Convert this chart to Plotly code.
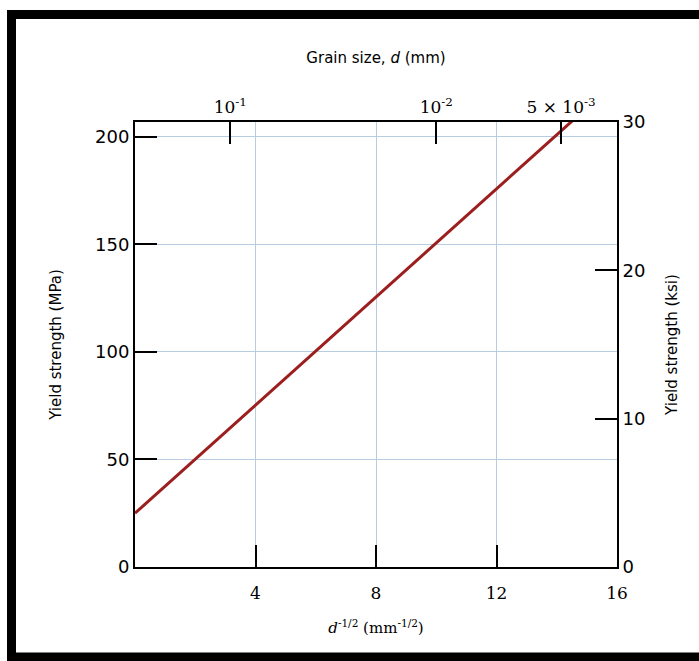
import plotly.graph_objects as go

# Data
d_inv_sqrt = [0, 16]          # d^-1/2 (mm^-1/2)
yield_mpa = [25, 226]         # yield strength (MPa), line clipped at top of axes

x_ticks = [4, 8, 12, 16]
y_mpa_ticks = [0, 50, 100, 150, 200]
y_ksi_ticks = [0, 10, 20, 30]
grain_sizes_mm = [0.1, 0.01, 0.005]
grain_labels = ["10<sup>-1</sup>", "10<sup>-2</sup>", "5 × 10<sup>-3</sup>"]

KSI_TO_MPA = 6.894757
y_max_ksi = 30
y_max_mpa = y_max_ksi * KSI_TO_MPA

grid_col = "#b9cde2"
line_red = "#9c1e1e"

fig = go.Figure()
fig.add_trace(go.Scatter(x=d_inv_sqrt, y=yield_mpa, mode="lines",
                         line=dict(color=line_red, width=3), showlegend=False,
                         hoverinfo="skip"))
# invisible trace to activate secondary axes
fig.add_trace(go.Scatter(x=[None], y=[None], xaxis="x2", yaxis="y2", showlegend=False))

top_tickvals = [g ** -0.5 for g in grain_sizes_mm]

sans = "DejaVu Sans"
serif = "DejaVu Serif"

fig.update_layout(
    width=699, height=661,
    margin=dict(l=135, r=82, t=122, b=94),
    paper_bgcolor="white", plot_bgcolor="white",
    xaxis=dict(range=[0, 16], tickvals=x_ticks, ticktext=[str(v) for v in x_ticks],
               ticks="inside", ticklen=22, tickwidth=2, tickcolor="black",
               showline=True, linecolor="black", linewidth=2,
               showgrid=True, gridcolor=grid_col, gridwidth=1, zeroline=False,
               tickfont=dict(family=serif, size=17, color="black"),
               ticklabelstandoff=10,
               title=dict(text="<i>d</i><sup>-1/2</sup> (mm<sup>-1/2</sup>)",
                          font=dict(family=serif, size=15, color="black"), standoff=20)),
    yaxis=dict(range=[0, y_max_mpa], tickvals=y_mpa_ticks,
               ticks="inside", ticklen=22, tickwidth=2, tickcolor="black",
               showline=True, linecolor="black", linewidth=2,
               showgrid=True, gridcolor=grid_col, gridwidth=1, zeroline=False,
               tickfont=dict(family=sans, size=18, color="black"),
               title=dict(text="Yield strength (MPa)",
                          font=dict(family=sans, size=15, color="black"), standoff=30)),
    xaxis2=dict(range=[0, 16], overlaying="x", side="top", anchor="y",
                tickvals=top_tickvals, ticktext=grain_labels,
                ticks="inside", ticklen=22, tickwidth=2, tickcolor="black",
                showline=True, linecolor="black", linewidth=2,
                showgrid=False, zeroline=False,
                tickfont=dict(family=serif, size=17, color="black"),
                title=dict(text="Grain size, <i>d</i> (mm)",
                           font=dict(family=sans, size=15, color="black"), standoff=28)),
    yaxis2=dict(range=[0, y_max_ksi], overlaying="y", side="right", anchor="x",
                tickvals=y_ksi_ticks,
                ticks="inside", ticklen=22, tickwidth=2, tickcolor="black",
                showline=True, linecolor="black", linewidth=2,
                showgrid=False, zeroline=False,
                tickfont=dict(family=sans, size=18, color="black"),
                title=dict(text="Yield strength (ksi)",
                           font=dict(family=sans, size=15, color="black"), standoff=22)),
)

# Black picture frame (top, left, bottom; right edge runs off the image)
W = 482.0
H = 445.0
def px(x):
    return (x - 135) / W
def py(y):
    return (567 - y) / H
fig.add_shape(type="rect", xref="paper", yref="paper",
              x0=px(11.5), x1=px(730), y0=py(657), y1=py(14.5),
              line=dict(color="black", width=9), fillcolor="rgba(0,0,0,0)", layer="above")

fig.write_html("out.html")
